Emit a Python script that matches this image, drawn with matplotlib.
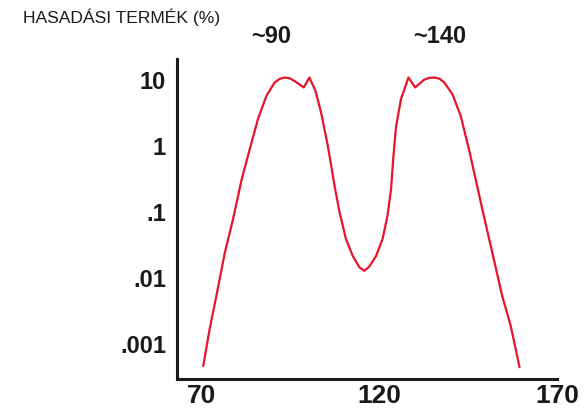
import matplotlib
matplotlib.use("Agg")
import matplotlib.pyplot as plt

plt.rcParams['font.family'] = ['Liberation Sans', 'DejaVu Sans']

# tömegszám és hasadási termék hozam (%)
mass_number = [70.4, 72.2, 74.1, 76.5, 78.8, 81.2, 83.5, 85.8, 88.2, 90.5,
               91.9, 93.3, 94.7, 96.1, 98.7, 100.3, 102.0, 103.6, 105.5,
               107.4, 108.8, 110.6, 112.5, 114.4, 115.8, 117.2, 119.1,
               120.9, 122.3, 123.3, 123.9, 124.7, 126.1, 128.2, 130.1,
               132.6, 134.0, 135.4, 136.9, 138.3, 140.6, 142.9, 145.4,
               149.0, 151.8, 154.6, 157.0, 159.5]
yield_pct = [0.00045, 0.00163, 0.0052, 0.0237, 0.0757, 0.30, 0.87, 2.48,
             5.6, 8.9, 10.1, 10.6, 10.35, 9.4, 7.5, 10.6, 6.7, 3.1, 0.97,
             0.24, 0.0955, 0.0377, 0.021, 0.014, 0.01245, 0.0145, 0.021,
             0.0377, 0.085, 0.215, 0.61, 1.9, 5.0, 10.6, 7.5,
             9.8, 10.45, 10.6, 10.2, 8.9, 5.9, 2.8, 0.80,
             0.107, 0.0237, 0.0052, 0.00183, 0.00043]

y_ticks = [10, 1, 0.1, 0.01, 0.001]
y_labels = ['10', '1', '.1', '.01', '.001']
x_ticks = [70, 120, 170]
peak_labels = [(89.4, '~90'), (137.0, '~140')]

fig = plt.figure(figsize=(5.88, 4.10), dpi=100)
ax = fig.add_axes([0.301, 0.0732, 0.646, 0.780])

ax.plot(mass_number, yield_pct, color='#e8142a', linewidth=1.6,
        solid_joinstyle='round', solid_capstyle='round')

ax.set_yscale('log')
ax.set_xlim(63.0, 169.7)
ax.set_ylim(2.85e-4, 20.1)

ax.set_yticks(y_ticks)
ax.set_yticklabels(y_labels)
ax.minorticks_off()
ax.set_xticks(x_ticks)
ax.set_xticklabels([str(v) for v in x_ticks])

ax.tick_params(axis='y', length=0, pad=8, labelsize=17, labelcolor='#1a1a1a')
ax.tick_params(axis='x', length=0, pad=3, labelsize=19, labelcolor='#1a1a1a')
for lab in ax.get_xticklabels() + ax.get_yticklabels():
    lab.set_fontweight('bold')

for side in ['top', 'right']:
    ax.spines[side].set_visible(False)
for side in ['left', 'bottom']:
    ax.spines[side].set_linewidth(2.2)
    ax.spines[side].set_color('#1a1a1a')

for x, txt in peak_labels:
    ax.annotate(txt, xy=(x, 0.91), xycoords=('data', 'figure fraction'),
                ha='center', va='center', fontsize=17, fontweight='bold',
                color='#1a1a1a', annotation_clip=False)

fig.text(0.039, 0.958, 'HASADÁSI TERMÉK (%)', ha='left', va='center',
         fontsize=12.6, color='#1a1a1a')

fig.savefig('out.png', dpi=100)
